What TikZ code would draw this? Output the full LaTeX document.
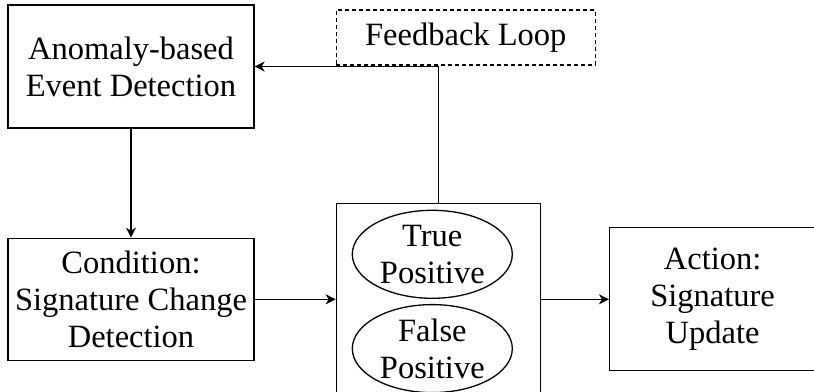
\documentclass[tikz,border=0pt]{standalone}
\usepackage{fontspec}
\setmainfont{Liberation Serif}
\usetikzlibrary{positioning, arrows.meta, shapes.geometric}

\begin{document}
\begin{tikzpicture}[
    x=1pt, y=-1pt,
    line width=1.3pt,
    every node/.style={font=\fontsize{32.5}{37}\selectfont, align=center, inner sep=0pt},
    block/.style={draw, rectangle, minimum width=246pt, minimum height=122pt},
    loopbox/.style={draw, dash pattern=on 4pt off 3pt, rectangle, minimum width=259pt, minimum height=55pt},
    holder/.style={draw, rectangle, minimum width=204pt, minimum height=192pt},
    result/.style={draw, ellipse, minimum width=160pt, minimum height=88pt},
    action/.style={draw, rectangle, minimum width=206pt, minimum height=143pt},
    >={Stealth[length=10pt, width=10pt, inset=3pt]}
]
\useasboundingbox (0,0) rectangle (814,391);
\clip (0,0) rectangle (814,391);

% --- left column ---
\node[block, minimum height=123pt] (anomaly) at (131,66.5) {Anomaly-based\\Event Detection};
\node[block, below=109pt of anomaly] (cond) {Condition:\\Signature Change\\Detection};

% --- middle ---
\node[holder, right=81pt of cond] (mid) {};
\node[result, below=7pt of mid.north, xshift=-6pt] (tp) {True\\Positive};
\node[result, below=5pt of tp] (fp) {False\\Positive};

% --- right ---
\node[action, right=68pt of mid] (act) {Action:\\Signature\\Update};

% --- feedback ---
\node[loopbox, right=81pt of anomaly.north east, anchor=north west, yshift=-5pt] (fb) {Feedback Loop};

% --- arrows ---
\draw[->] (anomaly) -- (cond);
\draw[->] (cond) -- (mid);
\draw[->] (mid) -- (act);
\draw[->] (mid.north) |- (anomaly.east);

\end{tikzpicture}
\end{document}
